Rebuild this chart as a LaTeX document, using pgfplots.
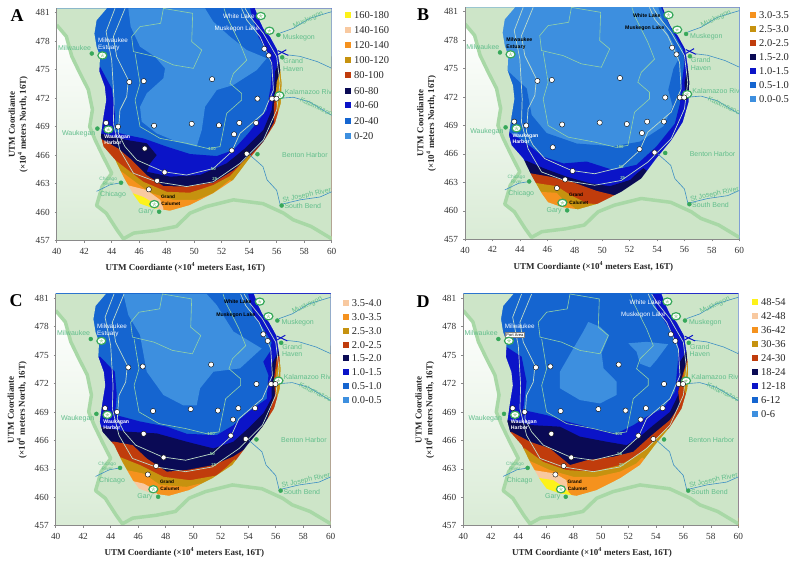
\documentclass[border=0pt]{standalone}
\usepackage{fontspec}
\setmainfont{Liberation Serif}
\newfontfamily\mapfont{Liberation Sans}
\usepackage{pgfplots}
\usepackage{pgfplotstable}
\pgfplotsset{compat=1.18}

\definecolor{cA}{HTML}{3D8FDF}
\definecolor{cB}{HTML}{1565D0}
\definecolor{cC}{HTML}{0B14C8}
\definecolor{cD}{HTML}{0A0A55}
\definecolor{cE}{HTML}{C03C0C}
\definecolor{cF}{HTML}{C6920F}
\definecolor{cG}{HTML}{F5921E}
\definecolor{cH}{HTML}{F8C9A0}
\definecolor{cI}{HTML}{FDF21A}
\definecolor{land}{HTML}{CDE5C8}
\definecolor{shoreband}{HTML}{A8D8A6}
\definecolor{river}{HTML}{3E8FC4}
\definecolor{contour}{HTML}{93D2A6}
\definecolor{contourb}{HTML}{BFDCC8}
\definecolor{maptext}{HTML}{62BE8C}
\definecolor{sitegreen}{HTML}{37A85A}
\definecolor{axisgray}{HTML}{8A8A8A}

\pgfplotstableread{
x y
40 481.45
43.64 481.45
42.9 480.2
42.74 478.8
42.9 477.4
43.15 476.4
43.1 474.8
43.5 473.2
43.6 471.8
43.4 470.05
43.2 468
43.4 466.9
44.25 465.5
44.85 463.7
45.6 461.8
46.05 460.9
47.03 460.4
48.24 460.15
49.7 460.75
51.4 462
52.85 463.4
53.94 465.5
55.03 467.4
55.88 469.35
56.3 471.45
56.36 473.6
56.24 475.3
56.05 477.07
55.52 478.47
55.03 479.35
54.74 480.23
54.42 481.45
60 481.45
60 457
40 457
}\landtab

\pgfplotstableread{
x y
40 479.7
40.7 478.5
41.1 476.4
41.7 474.6
42.3 472.9
42.6 470.8
42.4 469
42.8 467.6
43.4 465.8
44 464.1
43.3 462.7
42.9 460.7
43.6 459.9
44.4 458.1
44.85 457.2
45.6 457.8
47.3 458.1
48.7 458.5
49.7 459.9
50.9 460.6
52.85 461.3
55 460.9
56.5 459.9
57.2 459.2
58.5 458.5
60 457.2
}\bandtab

\pgfplotstableread{
x y
43.59 469.4
44.46 469
45.28 473.7
46.33 473.8
51.3 474
54.6 471.95
55.66 471.95
55.98 471.95
55.1 477.2
55.42 476.5
47.08 469.1
49.82 469.3
51.8 469.15
53.28 469.4
54.5 469.4
52.9 468.2
52.73 466.5
53.82 466.15
46.4 466.7
47.85 464.2
47.3 463.3
46.7 462.4
}\sampletab

\pgfplotstableread{
x y
54.84 480.65
55.47 479.1
43.32 476.5
43.76 468.7
56.2 472.3
47.1 460.85
}\sitetab

\pgfplotstableread{
x y
42.55 476.7
42.96 468.8
56.12 478.65
56.4 476.3
54.6 466.1
56.36 460.7
47.45 460.05
44.68 463.1
}\citytab

\tikzset{
  siteW/.style={font=\mapfont\fontsize{6.3}{7.2}\selectfont,text=white},
  siteK/.style={font=\mapfont\bfseries\fontsize{5.2}{6.6}\selectfont,text=black},
}

\newcommand{\lab}[4][maptext]{\node[font=\mapfont\fontsize{7}{7.4}\selectfont,text=#1,align=center,inner sep=0pt,rotate=#4] at (axis cs:#2) {#3};}

% name of the Milwaukee site, panel D has a tag over its second line
\newcommand{\milwname}{Milwaukee\\Estuary}
\newcommand{\milwy}{477.65}

% land, rivers, contours, samples and names, drawn over the bands of every panel
% #1 White Lake, #2 Muskegon Lake, #3 Milwaukee Estuary (style of the name)
\newcommand{\maplayer}[3]{%
  \addplot[fill=land,draw=none] table {\landtab};
  \addplot[top color=white,bottom color=land!75,draw=none] coordinates {(40,479.7)(40.7,478.5)(41.1,476.4)(41.7,474.6)(42.3,472.9)(42.6,470.8)(42.4,469)(42.8,467.6)(43.4,465.8)(44,464.1)(43.3,462.7)(42.9,460.7)(43.6,459.9)(44.4,458.1)(44.85,457)(40,457)};
  \addplot[left color=land,middle color=white,right color=land,draw=none] coordinates {(44.85,457)(45.6,457.8)(47.3,458.1)(48.7,458.5)(49.7,459.9)(50.9,460.6)(52.85,461.3)(55,460.9)(56.5,459.9)(57.2,459.2)(58.5,458.5)(60,457)};
  \addplot[shoreband,line width=3.5pt,line join=round] table {\bandtab};
  \addplot[river,line width=.6pt] coordinates {(56.24,478.85)(57.2,479.35)(58.4,480.4)(59.75,481)(60,481.1)};
  \addplot[river,line width=.6pt] coordinates {(56.85,476.55)(57.7,476.4)(58.95,475.85)(60,475.15)};
  \addplot[river,line width=.6pt] coordinates {(56.36,472)(57.2,472.1)(58.4,471.6)(60,470.2)};
  \addplot[river,line width=.6pt] coordinates {(54.06,466)(55,464.8)(55.3,463.4)(56,462.3)(56.25,460.8)(57.7,461.3)(59.15,461.6)(60,462.15)};
  \addplot[river,line width=.6pt] coordinates {(42.9,462.2)(43.9,462.9)(44.7,463.1)};
  \addplot[cC,line width=1pt] coordinates {(56.1,477)(56.85,476.5)};
  \addplot[cC,line width=1pt] coordinates {(56.1,476.6)(56.7,477.1)};
  \addplot[contour,line width=.6pt] coordinates {(47.76,481.45)(47.56,479.88)(46.06,479.53)(45.45,478.47)(45.58,476.9)(47.15,476.37)(48.48,475.5)(49.94,475.14)(50.55,477.07)(49.82,477.95)(49.89,480.93)(47.76,481.45)};
  \addplot[contour,line width=.6pt] coordinates {(45.7,476.72)(46.06,473.56)(45.7,471.8)(46.06,469)(47.52,467.77)(49.45,467.25)(51,466.7)(51.88,466.9)(52.36,470.4)(53.45,471.8)(53.45,472.5)(52.6,473.56)(52.85,474.6)(53.82,476)(53.33,477.77)(52.36,480.58)(52.17,481.45)};
  \addplot[contourb,line width=.7pt] coordinates {(44.97,481.45)(44.12,478.47)(44.36,476.37)(45.21,473.9)(45.09,472.16)(44.6,470.75)(44.48,468.3)(44.97,466.9)(45.82,465.5)(47.76,464.26)(49.45,463.91)(51.39,464.6)(52.73,466.37)(53.33,468.3)(55.03,470.4)(55.76,472.86)(55.64,475.67)(54.79,478.47)(53.82,480.23)(53.45,481.45)};
  \addplot[contourb,line width=.7pt] coordinates {(44.24,481.45)(43.59,479)(44,476)(44.17,471.8)(44.12,469.35)(44.6,466.54)(45.58,464.1)(47.27,463.2)(49.45,462.7)(51.39,463.2)(53.33,465.14)(55.03,467.6)(56,470.75)(56.24,473.56)(56,476.37)(55.03,478.82)(54.06,480.58)(53.7,481.45)};
  \addplot[only marks,mark=*,mark size=2pt,mark options={fill=sitegreen,draw=sitegreen}] table {\citytab};
  \addplot[only marks,mark=*,mark size=3.6pt,mark options={fill=white,draw=sitegreen,line width=1.2pt,xscale=1.25}] table {\sitetab};
  \addplot[only marks,mark=star,mark size=2pt,mark options={draw=shoreband,line width=.6pt}] table {\sitetab};
  \addplot[only marks,mark=*,mark size=2.6pt,mark options={fill=white,draw=black,line width=.4pt}] table {\sampletab};
  \lab{41.3,477.3}{Milwaukee}{0}
  \lab{41.6,468.3}{Waukegan}{0}
  \lab{57.6,478.4}{Muskegon}{0}
  \lab{57.2,475.5}{Grand\\Haven}{0}
  \lab{58.05,466}{Benton Harbor}{0}
  \lab{58.3,472.65}{Kalamazoo Riv}{0}
  \lab{58.9,471.1}{Kalamazoo}{-25}
  \lab{58.3,480.25}{Muskegon}{25}
  \lab{58.2,461.75}{St Joseph River}{12}
  \lab{57.9,460.6}{South Bend}{0}
  \lab{44.1,461.8}{Chicago}{0}
  \node[font=\mapfont\fontsize{4.8}{5}\selectfont,text=maptext,align=center] at (axis cs:43.75,463.3) {Chicago\\River};
  \lab{46.5,460.05}{Gary}{0}
  \node[font=\mapfont\bfseries\fontsize{4.8}{5}\selectfont,text=black] at (axis cs:48.1,461.65) {Grand};
  \node[font=\mapfont\bfseries\fontsize{4.8}{5}\selectfont,text=black] at (axis cs:48.3,460.85) {Calumet};
  \node[#1,inner sep=0pt] at (axis cs:53.25,480.6) {White Lake};
  \node[#2,inner sep=0pt] at (axis cs:53.1,479.25) {Muskegon Lake};
  \node[#3,align=left,anchor=west,inner sep=0pt] at (axis cs:43,\milwy) {\milwname};
  \node[font=\mapfont\bfseries\fontsize{5.2}{6}\selectfont,text=white,align=left,anchor=west,inner sep=0pt] at (axis cs:43.45,467.65) {Waukegan\\Harbor};
  \node[font=\mapfont\bfseries\fontsize{4.4}{5}\selectfont,text=contour] at (axis cs:51.3,466.7) {100};
  \node[font=\mapfont\bfseries\fontsize{4.4}{5}\selectfont,text=contour] at (axis cs:51.39,464.6) {50};
  \node[font=\mapfont\bfseries\fontsize{4.4}{5}\selectfont,text=contour] at (axis cs:51.5,463.45) {25};
}

\pgfplotsset{
  panel/.style={
    scale only axis,
    anchor=south west,
    xmin=40,xmax=60,ymin=457,ymax=481.45,
    xtick={40,42,...,60},
    ytick={457,460,...,481},
    axis lines*=left,
    axis line style={-,axisgray,line width=.6pt},
    tick style={axisgray,line width=.5pt},
    tick align=outside,
    major tick length=2pt,
    tick label style={font=\fontsize{9.3}{10}\selectfont,text=black!80},
    /pgf/number format/1000 sep={},
    /pgf/number format/assume math mode=true,
    xticklabel style={yshift=-2pt},
    yticklabel style={xshift=-1.5pt},
    label style={font=\bfseries\fontsize{9}{10.8}\selectfont,text=black!85},
    xlabel={UTM Coordiante (×10\textsuperscript{4} meters East, 16T)},
    ylabel={UTM Coordiante\\(×10\textsuperscript{4} meters North, 16T)},
    xlabel style={at={(axis description cs:0.468,-0.116)},anchor=center},
    ylabel style={at={(axis description cs:-0.14,0.5)},anchor=center,align=center},
    axis on top,
  },
  band/.style={fill=#1,draw=none},
}

\newcommand{\legrow}[5]{%
  \fill[#4] ({#1-3},{564-#3-3}) rectangle ({#1+3},{564-#3+3});
  \node[anchor=west,inner sep=0pt,font=\fontsize{10.5}{11}\selectfont,text=black!85] at (#2,{564-#3}) {#5};
}

\begin{document}
\begin{tikzpicture}[x=1pt,y=1pt]
\path[use as bounding box] (0,0) rectangle (795,564);

% ---------- A
\begin{axis}[panel,at={(56.7pt,323.3pt)},width=275pt,height=232.3pt]
\addplot[band=cB] coordinates {(39,482)(61,482)(61,456)(39,456)};
\addplot[band=cA] coordinates {(45.21,481.45)(45.38,479.53)(46.06,477.42)(47.15,476.37)(47.88,475.14)(47.76,474.09)(46.55,472.51)(46.06,471.1)(46.18,469.53)(47.27,468.3)(48.73,467.42)(50.18,466.9)(50.55,468.65)(50.79,471.1)(51.64,472.86)(52.85,473.39)(54.55,474.96)(55.27,476.2)(53.82,477.07)(52.61,478.47)(51.39,480.05)(50.79,481.45)};
\addplot[band=cC] coordinates {(39,475.32)(43.15,475.32)(44,473.04)(44.24,470.4)(44.17,468.47)(45.09,468.12)(46.3,467.77)(48,466.9)(49.7,466.12)(51.64,465.91)(52.85,466.54)(53.94,468.3)(55.27,470.75)(55.56,473.2)(55.64,475.14)(55.47,476.37)(54.67,478.47)(54.3,480.23)(54.06,481.45)(61,482)(61,456)(39,456)};
\addplot[band=cD] coordinates {(39,468.3)(43.15,468.3)(45.09,467.6)(46.55,467.25)(47.27,466)(46.79,465.14)(46.55,464.26)(48.24,463.74)(50.42,463.91)(52.36,465.14)(53.7,466.72)(55.03,468.65)(55.64,470.75)(55.81,472.86)(55.88,474.79)(56.36,476.37)(61,476.4)(61,456)(39,456)};
\addplot[band=cE] coordinates {(39,467.77)(43.15,467.77)(44.48,466.7)(45.45,465.5)(46.55,463.9)(47.76,462.75)(49.45,462.7)(51.39,463.1)(52.85,464.4)(53.94,465.85)(55.03,467.4)(55.8,469.5)(55.8,471.1)(55.88,472.5)(56.24,474.1)(56.44,475.3)(61,475.3)(61,456)(39,456)};
\addplot[band=cF] coordinates {(39,465.5)(44.24,465.5)(46.3,463.2)(48,462.15)(49.7,462.05)(51.39,462.86)(52.6,463.8)(53.45,465.14)(54,466)(61,456)(39,456)};
\addplot[band=cF] coordinates {(56,473.7)(56.3,475)(57,473)(57,471)(56.1,470.5)(55.9,472)};
\addplot[band=cG] coordinates {(39,464.26)(44.73,464.26)(45.7,463.2)(46.79,462.05)(48.48,461.3)(50.18,461.3)(51.39,462)(52.6,463.4)(61,456)(39,456)};
\addplot[band=cH] coordinates {(39,462.86)(45.09,462.86)(46.55,462.33)(47.52,461.3)(47.76,460.4)(47.8,459)(39,456)};
\addplot[band=cI] coordinates {(39,462)(45.53,462)(46.3,461.6)(46.9,461.1)(47.27,460.4)(47.3,459)(39,456)};
\maplayer{siteW}{siteW}{siteW}
\end{axis}
\node[font=\bfseries\fontsize{18}{18}\selectfont] at (17,{564-16}) {A};
\legrow{347.7}{354}{15.3}{cI}{160-180}
\legrow{347.7}{354}{30.3}{cH}{140-160}
\legrow{347.7}{354}{45}{cG}{120-140}
\legrow{347.7}{354}{60.3}{cF}{100-120}
\legrow{347.7}{354}{75.3}{cE}{80-100}
\legrow{347.7}{354}{90.7}{cD}{60-80}
\legrow{347.7}{354}{105.3}{cC}{40-60}
\legrow{347.7}{354}{120.7}{cB}{20-40}
\legrow{347.7}{354}{135.7}{cA}{0-20}

% ---------- B
\begin{axis}[panel,at={(465pt,324.7pt)},width=274.3pt,height=231.9pt]
\addplot[band=cA] coordinates {(39,482)(61,482)(61,456)(39,456)};
\addplot[band=cB] coordinates {(39,474.85)(43.04,474.85)(44.5,472.9)(44.86,470.1)(45.95,468.2)(48.14,467.1)(50.8,466.8)(52.76,467.3)(54.46,468.9)(55.14,471)(54.82,472.75)(55.2,475)(55.67,476.26)(55.2,477.6)(54.6,479.2)(54.1,481.45)(61,482)(61,456)(39,456)};
\addplot[band=cC] coordinates {(39,468.35)(43.16,468.35)(44.5,467.1)(45.71,465.7)(47.17,465)(48.87,465.2)(50.8,464.3)(52.5,464.85)(53.97,466.8)(55.3,469.2)(55.67,471.3)(55.8,473.45)(56.0,475.55)(55.9,477)(55,479.3)(54.3,481.45)(61,482)(61,456)(39,456)};
\addplot[band=cD] coordinates {(39,465.3)(44.45,465.3)(45.71,464.5)(47.41,463.6)(49.11,462.9)(50.57,462.6)(52.03,463.25)(52.5,463.9)(53,464.5)(61,456)(39,456)};
\addplot[band=cD] coordinates {(56,473.5)(56.3,475.5)(57,475)(57,472.5)(56.1,471.7)};
\addplot[band=cE] coordinates {(39,464)(44.6,464)(46.2,463.6)(47.9,463)(49.6,462.1)(51.3,461.5)(52,459)(39,456)};
\addplot[band=cF] coordinates {(39,463)(44.86,463)(46.68,462.6)(47.65,461.7)(48.87,460.8)(49.6,460.7)(50,459)(39,456)};
\addplot[band=cG] coordinates {(39,462.03)(45.1,462.03)(46.68,461.9)(47.17,461.15)(48,460.3)(48.2,459)(39,456)};
\maplayer{siteK}{siteK}{siteK}
\end{axis}
\node[font=\bfseries\fontsize{18}{18}\selectfont] at (423,{564-15}) {B};
\legrow{753}{759}{15.3}{cG}{3.0-3.5}
\legrow{753}{759}{29.3}{cF}{2.5-3.0}
\legrow{753}{759}{43.3}{cE}{2.0-2.5}
\legrow{753}{759}{57}{cD}{1.5-2.0}
\legrow{753}{759}{71}{cC}{1.0-1.5}
\legrow{753}{759}{85}{cB}{0.5-1.0}
\legrow{753}{759}{99.3}{cA}{0.0-0.5}

% ---------- C
\begin{axis}[panel,at={(55.7pt,38.3pt)},width=275pt,height=231.7pt]
\addplot[band=cB] coordinates {(39,482)(61,482)(61,456)(39,456)};
\addplot[band=cA] coordinates {(44.92,481.45)(45.28,479.24)(46.13,477.13)(46.62,473.25)(47.83,470.8)(49.28,469.7)(50.25,469.7)(50.5,471.5)(51.47,473.25)(53.4,473.6)(54.98,475.7)(52.92,477.5)(51.7,480.3)(50.98,481.45)};
\addplot[band=cC] coordinates {(39,474.84)(43.22,474.84)(44.3,473.25)(44.44,470.8)(44.32,468.7)(46.13,468)(48.07,467.45)(49.53,466.7)(51.7,466.55)(52.92,467.6)(54,469)(55.35,470.4)(55.47,472.9)(55.1,474.3)(55.6,475.4)(55.7,476.4)(55.1,477.8)(54.38,479.25)(54,481.45)(61,482)(61,456)(39,456)};
\addplot[band=cD] coordinates {(39,467.45)(43.2,467.45)(45.16,466.92)(47.35,466.74)(49.53,465.86)(51.47,465.15)(52.92,465.86)(54,467.27)(55.1,468.85)(55.7,470.44)(55.7,472.2)(55.7,474)(56.07,475)(56.44,476)(61,476)(61,456)(39,456)};
\addplot[band=cE] coordinates {(39,465.86)(44.3,465.86)(45.6,465.5)(46.62,464.1)(48.07,462.7)(49.53,462.87)(51.47,463.4)(52.92,464.3)(53.9,465.2)(55.35,468)(55.95,470.8)(55.88,472.55)(56.07,474.66)(56.44,475.2)(61,475.2)(61,456)(39,456)};
\addplot[band=cF] coordinates {(39,464.27)(44.63,464.27)(46.13,463.4)(47.83,462.16)(49.77,461.8)(51.7,462.3)(52.44,463.2)(53,464)(61,456)(39,456)};
\addplot[band=cF] coordinates {(56.05,473.4)(56.35,474.6)(57,473)(57,471)(56.1,470.5)(55.95,472)};
\addplot[band=cG] coordinates {(39,462.87)(45.16,462.87)(46.38,462.5)(47.6,461.3)(49.53,461.1)(50.5,461.45)(51,459)(39,456)};
\addplot[band=cH] coordinates {(39,461.7)(45.6,461.7)(46.38,461.45)(47.1,460.9)(47.35,460.4)(47.4,459)(39,456)};
\maplayer{siteK}{siteK}{siteW}
\end{axis}
\node[font=\bfseries\fontsize{18}{18}\selectfont] at (16,{564-301}) {C};
\legrow{345.7}{351.7}{303.3}{cH}{3.5-4.0}
\legrow{345.7}{351.7}{317}{cG}{3.0-3.5}
\legrow{345.7}{351.7}{330.7}{cF}{2.5-3.0}
\legrow{345.7}{351.7}{345}{cE}{2.0-2.5}
\legrow{345.7}{351.7}{358.3}{cD}{1.5-2.0}
\legrow{345.7}{351.7}{372.3}{cC}{1.0-1.5}
\legrow{345.7}{351.7}{386}{cB}{0.5-1.0}
\legrow{345.7}{351.7}{400}{cA}{0.0-0.5}

% ---------- D
\begin{axis}[panel,at={(463.3pt,38.3pt)},width=275pt,height=231.7pt]
\addplot[band=cB] coordinates {(39,482)(61,482)(61,456)(39,456)};
\addplot[band=cA] coordinates {(49.09,478.5)(49.94,478)(50.6,477.1)(50.06,475.2)(50.2,473.6)(51.15,472.2)(51.15,470.8)(49.94,469.9)(48.48,470.26)(47.03,471.5)(47.03,473.25)(48,475.7)(48.73,477.5)};
\addplot[band=cA] coordinates {(52,476.25)(53.33,476.4)(54.9,476.15)(54.06,474.5)(53.58,473.7)(52.85,474.1)(52.6,475.36)};
\addplot[band=cC] coordinates {(39,475.9)(43.1,475.9)(44.24,474.84)(44.6,472.2)(44.36,469.2)(46.06,468.67)(47.5,468)(49.45,467.27)(51.15,466.74)(52.36,467.6)(53.33,468.5)(54.55,469.4)(55.4,471.14)(55.63,474.66)(55.63,476.07)(54.8,478.2)(54.06,479.94)(53.7,481.45)(61,482)(61,456)(39,456)};
\addplot[band=cD] coordinates {(39,468.15)(43.2,468.15)(45.1,467.6)(47.03,467.45)(48.48,466.4)(50.42,465.86)(51.88,465.5)(52.85,466.4)(53.82,467.6)(55.03,469)(55.63,470.8)(55.76,472.55)(55.76,474.3)(56.24,475.4)(61,475.4)(61,456)(39,456)};
\addplot[band=cE] coordinates {(39,466.9)(43.5,466.9)(44.85,465.86)(46.3,465.15)(47.76,463.4)(48.97,463.9)(50.9,464.27)(52.36,464.8)(53.58,466.4)(55.03,468.15)(55.76,469.73)(55.63,471.14)(55.95,472.9)(56.24,474.3)(56.36,475.2)(61,475.2)(61,456)(39,456)};
\addplot[band=cF] coordinates {(39,465.15)(44.48,465.15)(45.8,463.74)(47.5,462.87)(49.45,462.7)(51.4,463.4)(52.85,464.6)(54.06,466.2)(54.8,467.27)(61,456)(39,456)};
\addplot[band=cF] coordinates {(56.05,473.2)(56.3,474.2)(57,473)(57,471.5)(56.15,471)(55.95,472)};
\addplot[band=cG] coordinates {(39,463.9)(44.73,463.9)(46.3,462.87)(48,462.16)(49.7,462.16)(51.4,462.7)(52.6,463.57)(53,464.2)(61,456)(39,456)};
\addplot[band=cH] coordinates {(39,462.87)(45.1,462.87)(46.67,462.5)(47.5,461.8)(47.64,460.6)(47.7,459)(39,456)};
\addplot[band=cI] coordinates {(39,462.05)(45.45,462.05)(46.55,461.8)(47.27,461.1)(47.88,460.2)(47.9,459)(39,456)};
\renewcommand{\milwname}{Milwaukee}
\renewcommand{\milwy}{478.05}
\maplayer{siteW}{siteW}{siteW}
\node[draw=black!50,fill=white,font=\mapfont\fontsize{4}{4.4}\selectfont,inner sep=1pt] at (axis cs:43.75,477.15) {Port Area};
\end{axis}
\node[font=\bfseries\fontsize{18}{18}\selectfont] at (423,{564-302}) {D};
\legrow{755}{761}{302.3}{cI}{48-54}
\legrow{755}{761}{316.3}{cH}{42-48}
\legrow{755}{761}{330.3}{cG}{36-42}
\legrow{755}{761}{344.3}{cF}{30-36}
\legrow{755}{761}{358.3}{cE}{24-30}
\legrow{755}{761}{372.3}{cD}{18-24}
\legrow{755}{761}{386.3}{cC}{12-18}
\legrow{755}{761}{400.3}{cB}{6-12}
\legrow{755}{761}{414.3}{cA}{0-6}
\end{tikzpicture}
\end{document}
